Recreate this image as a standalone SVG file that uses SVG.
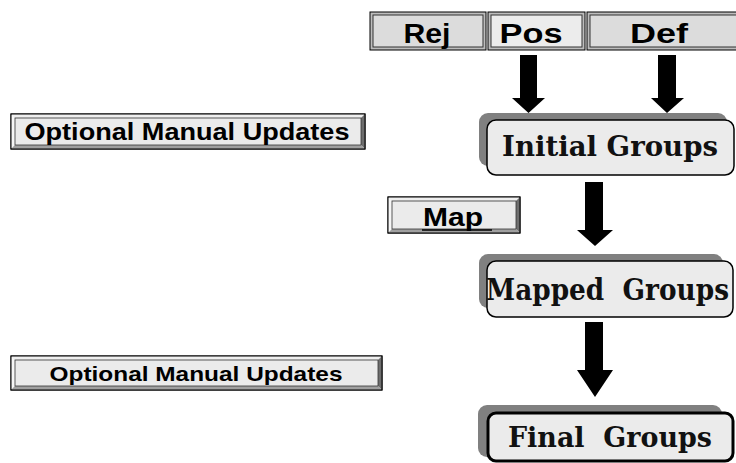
<svg xmlns="http://www.w3.org/2000/svg" width="736" height="463" viewBox="0 0 736 463">
<style>
.sans{font-family:"Liberation Sans",Arial,sans-serif;font-weight:bold;fill:#000}
.serif{font-family:"DejaVu Serif","Liberation Serif",serif;font-weight:bold;fill:#111}
.cellout{stroke:#000;stroke-width:1;fill:#bdbdbd}
.shadow{fill:#808080}
.box{fill:#ebebeb;stroke:#000;stroke-width:1.5}
.btnout{fill:#e8e8e8;stroke:#000;stroke-width:1}
.btnin{fill:#ebebeb;stroke:#333;stroke-width:0.8}
.bvl{fill:#f6f6f6}
.bvt{fill:#efefef}
.bvr{fill:#6e6e6e}
.bvb{fill:#a0a0a0}
.arrow{fill:#000}
</style>
<rect width="736" height="463" fill="#fff"/>

<g id="rej">
<rect class="cellout" x="370" y="12" width="116" height="38"/>
<rect x="373" y="15" width="110" height="32" fill="#dcdcdc" stroke="#333" stroke-width="1"/>
<text class="sans" x="427" y="43" font-size="27" text-anchor="middle" textLength="47" lengthAdjust="spacingAndGlyphs">Rej</text>
</g>
<g id="pos">
<rect class="cellout" x="488" y="12" width="97" height="38"/>
<rect x="491" y="15" width="91" height="32" fill="#ececec" stroke="#333" stroke-width="1"/>
<text class="sans" x="531" y="43" font-size="27" text-anchor="middle" textLength="63" lengthAdjust="spacingAndGlyphs">Pos</text>
</g>
<g id="def">
<rect class="cellout" x="587" y="12" width="160" height="38"/>
<rect x="590" y="15" width="154" height="32" fill="#dcdcdc" stroke="#333" stroke-width="1"/>
<text class="sans" x="659" y="43" font-size="27" text-anchor="middle" textLength="58" lengthAdjust="spacingAndGlyphs">Def</text>
</g>

<g id="opt1">
<rect class="btnout" x="11" y="114" width="354" height="35"/>
<polygon class="bvt" points="11,114 365,114 361,118 15,118"/>
<polygon class="bvl" points="11,114 15,118 15,145 11,149"/>
<polygon class="bvr" points="365,114 365,149 361,145 361,118"/>
<polygon class="bvb" points="11,149 365,149 361,145 15,145"/>
<rect class="btnin" x="15" y="118" width="346" height="27"/>
<rect x="11" y="114" width="354" height="35" fill="none" stroke="#000" stroke-width="1"/>
<text class="sans" x="187" y="140" font-size="24.5" text-anchor="middle" textLength="325" lengthAdjust="spacingAndGlyphs">Optional Manual Updates</text>
</g>

<g id="map">
<rect class="btnout" x="388" y="197" width="132" height="36"/>
<polygon class="bvt" points="388,197 520,197 516,201 392,201"/>
<polygon class="bvl" points="388,197 392,201 392,229 388,233"/>
<polygon class="bvr" points="520,197 520,233 516,229 516,201"/>
<polygon class="bvb" points="388,233 520,233 516,229 392,229"/>
<rect class="btnin" x="392" y="201" width="124" height="28"/>
<rect x="388" y="197" width="132" height="36" fill="none" stroke="#000" stroke-width="1"/>
<text class="sans" x="453" y="226" font-size="26" text-anchor="middle" textLength="60" lengthAdjust="spacingAndGlyphs">Map</text>
<line x1="422" y1="230" x2="492" y2="230" stroke="#000" stroke-width="1.5"/>
</g>

<g id="opt2">
<rect class="btnout" x="11" y="356" width="371" height="34"/>
<polygon class="bvt" points="11,356 382,356 378,360 15,360"/>
<polygon class="bvl" points="11,356 15,360 15,386 11,390"/>
<polygon class="bvr" points="382,356 382,390 378,386 378,360"/>
<polygon class="bvb" points="11,390 382,390 378,386 15,386"/>
<rect class="btnin" x="15" y="360" width="363" height="26"/>
<rect x="11" y="356" width="371" height="34" fill="none" stroke="#000" stroke-width="1"/>
<text class="sans" x="196" y="381" font-size="20.5" text-anchor="middle" textLength="293" lengthAdjust="spacingAndGlyphs">Optional Manual Updates</text>
</g>

<g id="initial">
<rect class="shadow" x="479" y="113" width="248" height="53" rx="9"/>
<rect class="box" x="487" y="120" width="247" height="55" rx="9"/>
<text class="serif" x="610" y="156" font-size="27" text-anchor="middle" textLength="216" lengthAdjust="spacingAndGlyphs">Initial Groups</text>
</g>

<g id="mapped">
<rect class="shadow" x="479" y="254" width="244" height="54" rx="9"/>
<rect class="box" x="487" y="261" width="246" height="56" rx="9"/>
<text class="serif" x="486" y="300" font-size="30" textLength="243" lengthAdjust="spacingAndGlyphs" xml:space="preserve">Mapped  Groups</text>
</g>

<g id="final">
<rect class="shadow" x="478" y="405" width="244" height="52" rx="9"/>
<rect x="488" y="413" width="245" height="48" rx="8" fill="#ebebeb" stroke="#000" stroke-width="3"/>
<text class="serif" x="508" y="447" font-size="27" textLength="204" lengthAdjust="spacingAndGlyphs" xml:space="preserve">Final  Groups</text>
</g>

<g id="connectors">
<polygon class="arrow" points="520,55 537,55 537,98 545,98 528.5,113 512,98 520,98"/>
<polygon class="arrow" points="658,55 676,55 676,98 684,98 667,113 651,98 658,98"/>
<polygon class="arrow" points="585,182 603,182 603,230 613,230 595,246 577,230 585,230"/>
<polygon class="arrow" points="585,322 603,322 603,370 613,370 595,397 577,370 585,370"/>
</g>
</svg>
